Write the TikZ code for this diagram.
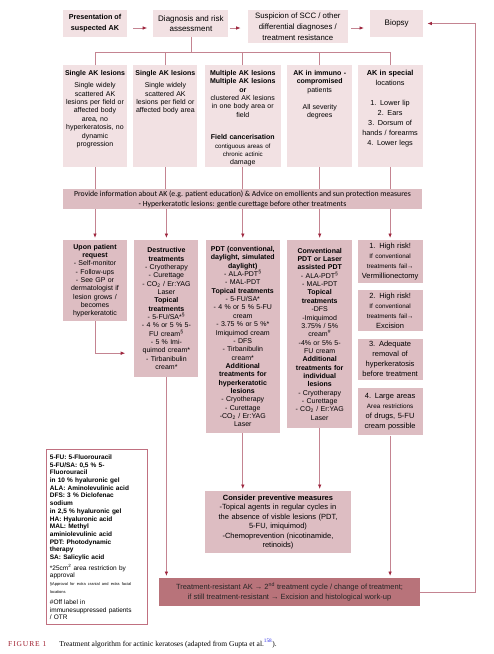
\documentclass[tikz,border=0pt]{standalone}
\usepackage{fontspec}
\setmainfont{Liberation Sans}
\newfontfamily\barfont{Carlito}
\newfontfamily\capfont{Liberation Serif}
\usepackage{tikz}
\usetikzlibrary{arrows.meta,positioning}
\definecolor{pinki}{RGB}{242,225,227}
\definecolor{pinkii}{RGB}{221,189,194}
\definecolor{redi}{RGB}{184,115,122}
\definecolor{linei}{RGB}{196,132,145}
\definecolor{tipi}{RGB}{158,38,62}
\definecolor{framei}{RGB}{192,112,128}
\definecolor{capi}{RGB}{158,28,44}
\definecolor{bluei}{RGB}{40,40,230}
\newcommand{\fsz}[2]{\fontsize{#1}{#2}\selectfont}
\tikzset{
      mytopblock/.style={
        fill=pinki,
        align=center,
        minimum width=#1,
        minimum height=27pt,
        inner sep=1pt,
        font=\fsz{8}{10.7}
      },
      mylesblock/.style={
        fill=pinki,
        align=center,
        text width=#1,
        inner xsep=0pt,
        inner ysep=4pt,
        text height=6pt,
        text depth=88pt,
        font=\fsz{7}{8.4}
      },
      mytreatblock/.style 2 args={
        fill=pinkii,
        align=center,
        text width=#1,
        inner xsep=0pt,
        inner ysep=3pt,
        minimum height=#2,
        font=\fsz{7}{8.35}
      },
      myriskblock/.style={
        mytreatblock={65pt}{#1},
        font=\fsz{7.5}{10}
      },
      myline/.style={
        draw=linei,
        line width=0.8pt
      },
      myarrow/.style={
        myline,
        -{Latex[length=4.5pt,width=3.6pt,color=tipi]},
        shorten >=2pt
      },
    }
\begin{document}
\begin{tikzpicture}[x=1pt,y=-1pt]
  \useasboundingbox (0,0) rectangle (494,654);

  %Top row
  \node[mytopblock=64pt, font=\bfseries\fsz{7.2}{11}] (present) at (95,23.5)
    {Presentation of\\suspected AK};
  \node[mytopblock=75pt, right=26pt of present.north east, anchor=north west] (diag)
    {Diagnosis and risk\\assessment};
  \node[mytopblock=100pt, minimum height=33pt, font=\fsz{7.8}{11}, right=19pt of diag.north east, anchor=north west] (susp)
    {Suspicion of SCC / other\\differential diagnoses /\\treatment resistance};
  \node[mytopblock=53pt, right=22pt of susp.north east, anchor=north west] (biopsy)
    {Biopsy};

  %Lesion types
  \node[mylesblock=64pt, anchor=north] (single1) at (95,65)
    {{\bfseries Single AK lesions}\\[4pt]
     Single widely\\scattered AK\\lesions per field or\\affected body\\area, no\\hyperkeratosis, no\\dynamic\\progression};
  \node[mylesblock=64pt, right=6pt of single1.north east, anchor=north west] (single2)
    {{\bfseries Single AK lesions}\\[4pt]
     Single widely\\scattered AK\\lesions per field or\\affected body area};
  \node[mylesblock=76pt, right=7pt of single2.north east, anchor=north west] (multiple)
    {{\bfseries Multiple AK lesions\\Multiple AK lesions\\or}\\
     clustered AK lesions\\in one body area or\\field\\[14pt]
     {\bfseries Field cancerisation}\\
     {\fsz{6.2}{8.4}contiguous areas of\\chronic actinic}\\damage};
  \node[mylesblock=65pt, right=6pt of multiple.north east, anchor=north west] (immuno)
    {{\bfseries AK in immuno -\\compromised}\\patients\\[9pt]
     All severity\\degrees};
  \node[mylesblock=65pt, font=\fsz{7.3}{10}, right=5pt of immuno.north east, anchor=north west] (special)
    {{\bfseries AK in special}\\locations\\[10pt]
     1. Lower lip\\2. Ears\\3. Dorsum of\\hands / forearms\\4. Lower legs};

  %Information
  \node[fill=pinkii, align=center, minimum width=359pt, minimum height=20pt, inner sep=1pt,
        font=\barfont\fsz{7.75}{9.8}, anchor=north] (info) at (242.5,189)
    {Provide information about AK (e.g. patient education) \& Advice on emollients and sun protection measures\\
     - Hyperkeratotic lesions: gentle curettage before other treatments};

  %Treatments
  \node[mytreatblock={64pt}{81pt}, anchor=north] (request) at (95,240)
    {{\bfseries Upon patient\\request}\\
     - Self-monitor\\- Follow-ups\\- See GP or\\dermatologist if\\lesion grows /\\becomes\\hyperkeratotic};
  \node[mytreatblock={64pt}{137pt}, right=7pt of request.north east, anchor=north west] (destr)
    {{\bfseries Destructive\\treatments}\\
     - Cryotherapy\\- Curettage\\- CO\textsubscript{2} / Er:YAG\\Laser\\
     {\bfseries Topical\\treatments}\\
     - 5-FU/SA*\textsuperscript{§}\\- 4 \% or 5 \% 5-\\FU cream\textsuperscript{§}\\- 5 \% Imi-\\quimod cream*\\- Tirbanibulin\\cream*};
  \node[mytreatblock={74pt}{193pt}, right=7pt of destr.north east, anchor=north west] (pdt)
    {{\bfseries PDT (conventional,\\daylight, simulated\\daylight)}\\
     - ALA-PDT\textsuperscript{§}\\- MAL-PDT\\
     {\bfseries Topical treatments}\\
     - 5-FU/SA*\\- 4 \% or 5 \% 5-FU\\cream\\- 3.75 \% or 5 \%*\\Imiquimod cream\\- DFS\\- Tirbanibulin\\cream*\\
     {\bfseries Additional\\treatments for\\hyperkeratotic\\lesions}\\
     - Cryotherapy\\- Curettage\\-CO\textsubscript{2} / Er:YAG\\Laser};
  \node[mytreatblock={65pt}{188pt}, right=7pt of pdt.north east, anchor=north west] (laser)
    {{\bfseries Conventional\\PDT or Laser\\assisted PDT}\\
     - ALA-PDT\textsuperscript{§}\\- MAL-PDT\\
     {\bfseries Topical\\treatments}\\
     -DFS\\-Imiquimod\\3.75\% / 5\%\\cream\textsuperscript{\#}\\-4\% or 5\% 5-\\FU cream\\
     {\bfseries Additional\\treatments for\\individual\\lesions}\\
     - Cryotherapy\\- Curettage\\- CO\textsubscript{2} / Er:YAG\\Laser};
  \node[myriskblock=42pt, right=5pt of laser.north east, anchor=north west] (risk1)
    {1. High risk!\\{\fsz{6.3}{10}If conventional\\treatments fail→}\\Vermillionectomy};
  \node[myriskblock=41pt, below=6pt of risk1] (risk2)
    {2. High risk!\\{\fsz{6.3}{10}If conventional\\treatments fail→}\\Excision};
  \node[myriskblock=41pt, below=7pt of risk2] (risk3)
    {3. Adequate\\removal of\\hyperkeratosis\\before treatment};
  \node[myriskblock=47pt, below=8pt of risk3] (risk4)
    {4. Large areas\\{\fsz{6.3}{10}Area restrictions}\\of drugs, 5-FU\\cream possible};

  %Prevention and resistance
  \node[mytreatblock={146pt}{62pt}, font=\fsz{7.5}{9.5}, anchor=north] (prevent) at (278,491)
    {{\bfseries Consider preventive measures}\\
     -Topical agents in regular cycles in\\the absence of visble lesions (PDT,\\5-FU, imiquimod)\\
     -Chemoprevention (nicotinamide,\\retinoids)};
  \node[fill=redi, align=center, minimum width=261pt, minimum height=28pt, inner sep=1pt,
        font=\fsz{7.5}{10}, text=black!85, anchor=north] (resist) at (289.5,578)
    {Treatment-resistant AK → 2\textsuperscript{nd} treatment cycle / change of treatment;\\
     if still treatment-resistant → Excision and histological work-up};

  %Legend
  \node[draw=framei, line width=0.8pt, fill=white, align=left, text width=94pt, inner xsep=3.5pt,
        inner ysep=4pt, text height=6pt, text depth=161pt, font=\bfseries\fsz{6.5}{7.7},
        anchor=north west] (legend) at (46,449)
    {5-FU: 5-Fluorouracil\\5-FU/SA: 0,5 \% 5-\\Fluorouracil\\in 10 \% hyaluronic gel\\
     ALA: Aminolevulinic acid\\DFS: 3 \% Diclofenac\\sodium\\in 2,5 \% hyaluronic gel\\
     HA: Hyaluronic acid\\MAL: Methyl\\aminiolevulinic acid\\PDT: Photodynamic\\therapy\\
     SA: Salicylic acid\\[3pt]
     {\mdseries *25cm\textsuperscript{2} area restriction by\\approval\\
     {\fsz{4}{7.7}§Approval for extra cranial and extra facial\\locations}\\[3.3pt]
     \#Off label in\\immunesuppressed patients\\/ OTR}};

  \node[anchor=base west, inner sep=0pt, font=\capfont\fsz{7.5}{9}] (caption) at (8,646)
    {{\color{capi}\addfontfeature{LetterSpace=12}FIGURE 1}\hspace{13pt}Treatment algorithm for actinic keratoses (adapted from Gupta et al.\textsuperscript{\color{bluei}158}).};

  \draw[myarrow, shorten <=6pt, shorten >=6pt] ([yshift=-4.5pt]present.east) -- ([yshift=-4.5pt]diag.west);
  \draw[myarrow, shorten <=1pt, shorten >=7pt] ([yshift=-4.5pt]diag.east) -- ([yshift=-1.5pt]susp.west);
  \draw[myarrow, shorten <=3pt, shorten >=6pt] ([yshift=-1.5pt]susp.east) -- ([yshift=-4.5pt]biopsy.west);
  \draw[myline] (diag.south) -- ++(0,15) coordinate (split);
  \draw[myline] (single1.north) |- (split) -| (special.north);
  \foreach \n in {single2,multiple,immuno}
    \draw[myline] (\n.north) -- (\n.north |- split);
  \foreach \n in {single1,single2,multiple,immuno,special}
    \draw[myline] (\n.south) -- (\n.south |- info.north);
  \foreach \n in {request,destr,pdt,laser,risk1}
    \draw[myarrow] (\n.north |- info.south) -- (\n.north);
  \draw[myarrow, shorten >=9pt] (request.south) |- ([yshift=-44.5pt]destr.west);
  \draw[myarrow] (destr.south) -- (destr.south |- resist.north);
  \draw[myarrow] (risk4.south) -- (risk4.south |- resist.north);
  \draw[myarrow] (pdt.south) -- (pdt.south |- prevent.north);
  \draw[myarrow] (laser.south) -- (laser.south |- prevent.north);
  \draw[myarrow, shorten >=4pt] (resist.east) -- ++(55,0) |- (biopsy.east);

\end{tikzpicture}
\end{document}
